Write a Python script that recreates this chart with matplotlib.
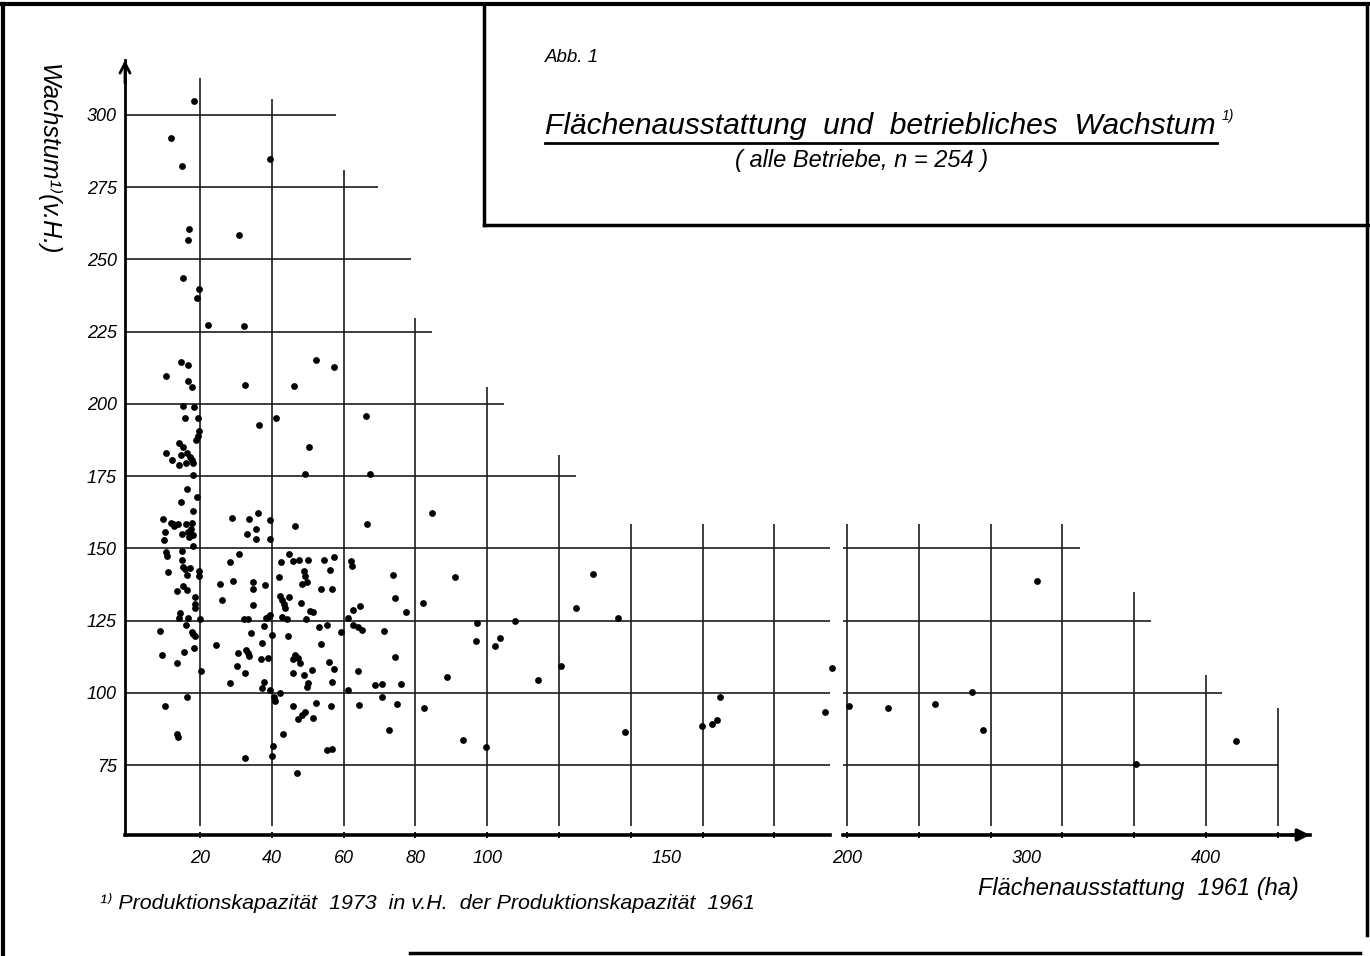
import matplotlib
matplotlib.use('Agg')
import matplotlib.pyplot as plt
from matplotlib.lines import Line2D

# ---------------- data ----------------
area_ha = [
    18.4, 11.9, 15.1, 16.9, 16.7, 15.3, 19.6, 19.1, 30.8,
    39.4, 32.2, 52.3, 57.4, 32.5, 46.3, 66.3, 41.3, 36.5, 50.4, 49.3, 67.3,
    22.1, 14.6, 16.6, 10.5, 16.7, 17.8, 15.2, 18.4, 15.7, 19.5, 19.6, 19.3, 19.0,
    14.1, 15.3, 10.5, 14.7, 16.4, 17.2, 17.7, 18.1, 12.3, 14.2, 16.1, 18.1, 16.4,
    19.1, 14.6, 18.1, 9.6, 29.0,
    12.0, 12.4, 12.8, 13.8, 16.0, 17.8, 17.5, 17.1, 10.3, 16.6, 15.1, 18.1, 16.8,
    10.1, 18.0, 10.5, 10.8, 15.0, 15.0, 30.9, 28.4, 15.3, 15.9, 17.1, 19.6, 19.7,
    11.2, 16.4, 29.3, 25.5, 15.2, 13.5, 16.3, 18.5, 26.0, 18.5, 18.5, 14.3, 14.2,
    16.6, 19.9, 16.2, 8.9, 17.8, 18.1, 18.5, 24.5, 18.4, 30.6, 15.4, 9.3, 13.5, 30.4,
    20.2, 28.4, 16.4, 10.3, 13.5, 14.0,
    33.6, 36.1, 39.4, 35.6, 33.1, 35.6, 39.4, 46.4, 66.6, 44.9, 42.5, 46.0, 47.5,
    50.2, 54.5, 57.2, 62.0, 62.3, 49.0, 49.2, 56.3, 42.1, 34.8, 49.7, 48.3, 34.8,
    38.0, 53.7, 56.7, 42.2, 42.9, 43.5, 43.7, 44.7, 48.2, 34.8, 50.6, 51.6, 64.6,
    62.6, 32.3, 33.4, 38.3, 38.8, 39.4, 42.7, 44.3, 49.4, 61.1, 37.8, 53.2, 55.3,
    62.5, 63.9, 65.1, 59.3, 71.2, 34.2, 40.0, 44.6, 37.2, 53.6, 32.8, 33.3, 33.7,
    37.0, 38.9, 46.4, 46.0, 47.2, 47.8, 56.0, 57.3, 32.6, 46.0, 48.9, 51.2, 63.9,
    50.0, 49.8, 56.9, 37.9, 37.2, 39.5, 42.3, 40.7, 40.9, 61.3, 68.7, 70.8, 70.8,
    52.3, 45.8, 56.6, 64.2, 49.2, 48.5, 47.4, 51.4, 43.2, 40.4, 40.1, 32.6, 55.5,
    56.7, 47.0,
    84.5, 73.8, 91.0, 129.4, 74.2, 82.2, 77.4, 124.8, 136.4, 107.7, 97.1, 96.9,
    103.6, 102.2, 74.2, 120.5, 88.9, 114.1, 75.9, 74.8, 82.5, 72.6, 93.2, 99.6,
    138.4, 159.8, 162.7, 164.0, 164.8, 194.2, 196.0,
    200.9, 222.7, 249.0, 269.4, 275.6, 306.0, 360.9, 416.4,
]
growth_pct = [
    304.8, 292.0, 282.2, 260.4, 256.6, 243.6, 239.7, 236.8, 258.5,
    284.7, 227.0, 215.1, 212.7, 206.4, 206.2, 195.9, 195.2, 192.6, 185.2, 175.6, 175.6,
    227.3, 214.4, 213.6, 209.7, 207.9, 205.7, 199.1, 199.0, 195.2, 195.1, 190.5, 189.0, 187.5,
    186.3, 184.9, 183.0, 182.3, 183.0, 181.7, 180.7, 179.7, 180.6, 178.8, 179.7, 175.4, 170.5,
    167.8, 166.2, 163.0, 160.0, 160.5,
    158.8, 158.4, 157.9, 158.4, 158.5, 158.6, 156.7, 156.0, 155.6, 155.6, 154.8, 154.6, 153.8,
    153.0, 150.8, 148.8, 147.4, 149.1, 146.1, 148.2, 145.4, 143.7, 142.8, 143.2, 142.2, 140.4,
    141.8, 140.8, 138.7, 137.7, 137.0, 135.2, 135.6, 133.0, 132.0, 130.8, 129.4, 127.6, 125.9,
    125.9, 125.7, 123.6, 121.5, 120.9, 120.3, 119.8, 116.4, 115.5, 113.7, 114.2, 113.1, 110.2, 109.3,
    107.4, 103.4, 98.4, 95.4, 85.7, 84.6,
    160.0, 162.3, 159.8, 156.7, 154.8, 153.1, 153.1, 157.6, 158.3, 148.0, 145.3, 145.5, 146.0,
    146.0, 145.8, 147.0, 145.6, 143.9, 142.2, 140.4, 142.5, 140.2, 138.3, 138.3, 137.6, 135.9,
    137.2, 136.0, 136.0, 133.5, 132.1, 130.6, 129.2, 133.2, 131.1, 130.4, 128.3, 128.1, 130.0,
    128.8, 125.5, 125.5, 125.8, 126.3, 126.8, 126.1, 125.5, 125.5, 126.0, 123.3, 122.8, 123.5,
    123.6, 122.8, 121.9, 120.9, 121.4, 120.6, 120.0, 119.7, 117.2, 117.0, 114.7, 113.7, 112.8,
    111.7, 112.2, 113.1, 111.6, 111.9, 110.4, 110.7, 108.1, 107.0, 107.0, 106.3, 107.9, 107.7,
    103.4, 102.0, 103.9, 103.9, 101.8, 101.1, 100.1, 98.4, 97.2, 101.1, 102.7, 103.2, 98.4,
    96.5, 95.5, 95.6, 95.8, 93.2, 92.3, 90.8, 91.3, 85.6, 81.7, 78.0, 77.3, 80.1,
    80.4, 72.1,
    162.2, 140.8, 140.2, 141.1, 132.8, 131.1, 127.8, 129.3, 126.0, 124.9, 124.0, 118.0,
    118.9, 116.3, 112.4, 109.3, 105.6, 104.5, 103.0, 96.0, 94.8, 87.3, 83.8, 81.4,
    86.4, 88.6, 89.1, 90.7, 98.6, 93.5, 108.6,
    95.4, 94.7, 96.2, 100.3, 87.2, 138.6, 75.5, 83.5,
]

y_tick_values = [75, 100, 125, 150, 175, 200, 225, 250, 275, 300]
x_tick_labels_left = [20, 40, 60, 80, 100, 150]
x_tick_labels_right = [200, 300, 400]

# staircase grid of the original drawing
hgrid_left_y = [300, 275, 250, 225, 200, 175, 150, 125, 100, 75]
hgrid_left_end = [58, 69.6, 78.8, 84.6, 104.7, 124.7, 195.5, 195.5, 195.5, 195.5]
hgrid_right_y = [150, 125, 100, 75]
hgrid_right_end = [330, 369, 408.8, 440]
vgrid_left_x = [20, 40, 60, 80, 100, 120, 140, 160, 180]
vgrid_left_top = [312.8, 305.5, 281, 229.7, 205.8, 182.3, 158.4, 158.4, 158.4]
vgrid_right_x = [200, 240, 280, 320, 360, 400, 440]
vgrid_right_top = [158.4, 158.4, 158.4, 158.4, 134.9, 106, 94.7]

BREAK = 198

# ---------------- figure ----------------
plt.rcParams['font.family'] = ['Liberation Sans', 'DejaVu Sans']
W, H = 1370, 956
fig = plt.figure(figsize=(W / 100, H / 100), dpi=100)
fig.patch.set_facecolor('white')


def fx(px):
    return px / W


def fy(py):
    return 1 - py / H


YMIN, YMAX = 50.8, 319
axL = fig.add_axes([fx(125), fy(835), fx(830) - fx(125), fy(60) - fy(835)])
axR = fig.add_axes([fx(843), fy(835), fx(1310) - fx(843), fy(60) - fy(835)])
axL.set_xlim(-0.9, 195.5)
axR.set_xlim(197.8, 457.8)
for ax in (axL, axR):
    ax.set_ylim(YMIN, YMAX)
    ax.patch.set_alpha(0)
    for s in ('top', 'right'):
        ax.spines[s].set_visible(False)
    ax.spines['bottom'].set_linewidth(2.6)
axR.spines['left'].set_visible(False)
axL.spines['left'].set_linewidth(2.0)

gc = '#1c1c1c'
glw = 1.2
GBOT = 54
axL.hlines(hgrid_left_y, -0.9, hgrid_left_end, color=gc, lw=glw, zorder=1)
axR.hlines(hgrid_right_y, 197.2, hgrid_right_end, color=gc, lw=glw, zorder=1)
axL.vlines(vgrid_left_x, GBOT, vgrid_left_top, color=gc, lw=glw, zorder=1)
axR.vlines(vgrid_right_x, GBOT, vgrid_right_top, color=gc, lw=glw, zorder=1)

xl = [a for a in area_ha if a < BREAK]
yl = [g for a, g in zip(area_ha, growth_pct) if a < BREAK]
xr = [a for a in area_ha if a >= BREAK]
yr = [g for a, g in zip(area_ha, growth_pct) if a >= BREAK]
axL.scatter(xl, yl, s=24, c='k', linewidths=0, zorder=3, clip_on=False)
axR.scatter(xr, yr, s=24, c='k', linewidths=0, zorder=3, clip_on=False)

tick_font = dict(family=['Liberation Sans', 'DejaVu Sans'], style='italic', size=13)
axL.set_yticks(y_tick_values)
axL.set_yticklabels([str(v) for v in y_tick_values], **tick_font)
axL.tick_params(axis='y', length=0, pad=6)
axR.set_yticks([])

axL.set_xticks(x_tick_labels_left)
axL.set_xticklabels([str(v) for v in x_tick_labels_left], **tick_font)
axL.set_xticks(vgrid_left_x, minor=True)
axR.set_xticks(x_tick_labels_right)
axR.set_xticklabels([str(v) for v in x_tick_labels_right], **tick_font)
axR.set_xticks(vgrid_right_x, minor=True)
for ax in (axL, axR):
    ax.xaxis.remove_overlapping_locs = False
    ax.tick_params(axis='x', which='major', length=0, pad=11)
    ax.tick_params(axis='x', which='minor', length=5, width=1.3, direction='inout')

# axis arrows
axL.annotate('', xy=(0, 1), xycoords='axes fraction', xytext=(0, 0.97),
             arrowprops=dict(arrowstyle='->', lw=2, color='k', mutation_scale=18,
                             shrinkA=0, shrinkB=0))
axR.annotate('', xy=(1, 0), xycoords='axes fraction', xytext=(0.96, 0),
             arrowprops=dict(arrowstyle='-|>', lw=2.4, color='k', mutation_scale=18,
                             shrinkA=0, shrinkB=0))

# ---------------- texts ----------------
fam = ['Liberation Sans', 'DejaVu Sans']
fig.text(fx(545), fy(57), 'Abb. 1', family=fam, style='italic', size=13.5, va='center')
fig.text(fx(545), fy(126), 'Flächenausstattung  und  betriebliches  Wachstum',
         family=fam, style='italic', size=21.6, va='center', ha='left')
fig.text(fx(1222), fy(116), '1)', family=fam, style='italic', size=10, va='center')
fig.text(fx(862), fy(160), '( alle Betriebe, n = 254 )', family=fam, style='italic',
         size=17, va='center', ha='center')
fig.text(fx(48), fy(160), 'Wachstum¹⁾(v.H.)', family=fam, style='italic', size=18,
         rotation=270, ha='center', va='center')
fig.text(fx(1138), fy(889), 'Flächenausstattung  1961 (ha)', family=fam, style='italic',
         size=17, ha='center', va='center')
fig.text(fx(100), fy(903),
         '¹⁾ Produktionskapazität  1973  in v.H.  der Produktionskapazität  1961',
         family=fam, style='italic', size=15.4, ha='left', va='center')

# ---------------- frame lines ----------------
def fline(xs, ys, lw):
    fig.add_artist(Line2D([fx(v) for v in xs], [fy(v) for v in ys], color='k', lw=lw,
                          transform=fig.transFigure))

fline([545, 1217], [143, 143], 2.0)      # title underline
fline([0, 1370], [4, 4], 3.0)            # top
fline([3, 3], [4, 956], 3.0)             # left
fline([1367, 1367], [4, 935], 2.5)       # right
fline([484, 484], [4, 225], 2.5)         # title box left
fline([484, 1370], [225, 225], 2.5)      # title box bottom
fline([410, 1360], [953, 953], 2.5)      # bottom

fig.savefig('out.png', dpi=100, facecolor='white')
